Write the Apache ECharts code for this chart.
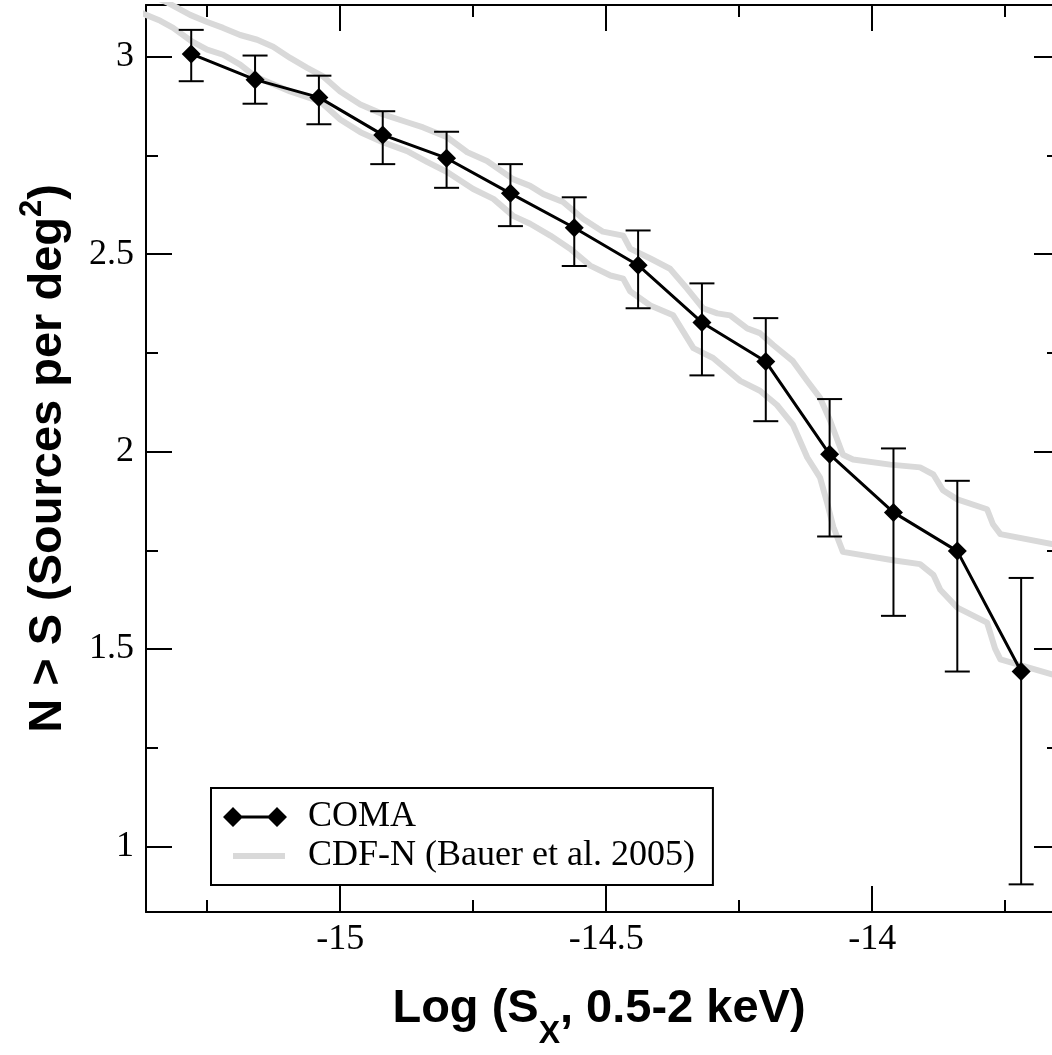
<!DOCTYPE html>
<html>
<head>
<meta charset="utf-8">
<script src="https://cdn.jsdelivr.net/npm/echarts@6/dist/echarts.min.js"></script>
<style>
html,body{margin:0;padding:0;background:#fff;}
#chart{width:1052px;height:1055px;}
</style>
</head>
<body>
<div id="chart"></div>
<script>
// ---- data ----
const comaX = [-15.28, -15.16, -15.04, -14.92, -14.80, -14.68, -14.56, -14.44, -14.32, -14.20, -14.08, -13.96, -13.84, -13.72];
const comaY = [3.007, 2.942, 2.897, 2.802, 2.743, 2.654, 2.567, 2.472, 2.327, 2.228, 1.993, 1.846, 1.748, 1.443];
const comaErrHigh = [3.068, 3.003, 2.952, 2.862, 2.810, 2.728, 2.644, 2.560, 2.426, 2.338, 2.133, 2.008, 1.926, 1.680];
const comaErrLow = [2.938, 2.881, 2.829, 2.728, 2.668, 2.571, 2.470, 2.363, 2.193, 2.077, 1.785, 1.584, 1.443, 0.904];

const cdfnUpperX = [-15.348, -15.323, -15.282, -15.250, -15.220, -15.188, -15.156, -15.126, -15.094, -15.062, -15.032, -15.000, -14.962, -14.919, -14.874, -14.844, -14.799, -14.761, -14.724, -14.675, -14.643, -14.618, -14.581, -14.543, -14.506, -14.468, -14.455, -14.417, -14.380, -14.348, -14.318, -14.291, -14.267, -14.235, -14.211, -14.186, -14.149, -14.122, -14.098, -14.079, -14.055, -14.036, -13.966, -13.910, -13.885, -13.867, -13.840, -13.784, -13.773, -13.759, -13.662, -13.637];
const cdfnUpperY = [3.151, 3.136, 3.106, 3.088, 3.073, 3.055, 3.043, 3.025, 2.997, 2.972, 2.950, 2.912, 2.879, 2.854, 2.834, 2.821, 2.796, 2.758, 2.736, 2.690, 2.673, 2.652, 2.632, 2.589, 2.557, 2.547, 2.514, 2.489, 2.463, 2.413, 2.363, 2.350, 2.345, 2.312, 2.300, 2.270, 2.229, 2.179, 2.136, 2.078, 1.992, 1.980, 1.967, 1.960, 1.942, 1.902, 1.879, 1.854, 1.816, 1.791, 1.766, 1.761];

const cdfnLowerX = [-15.376, -15.365, -15.338, -15.314, -15.278, -15.250, -15.220, -15.188, -15.160, -15.094, -15.038, -15.000, -14.962, -14.919, -14.874, -14.836, -14.799, -14.750, -14.712, -14.675, -14.643, -14.605, -14.568, -14.530, -14.492, -14.468, -14.455, -14.417, -14.374, -14.336, -14.299, -14.248, -14.211, -14.179, -14.149, -14.122, -14.098, -14.085, -14.073, -14.055, -13.961, -13.910, -13.885, -13.872, -13.840, -13.784, -13.769, -13.759, -13.662, -13.637];
const cdfnLowerY = [3.113, 3.106, 3.091, 3.073, 3.038, 3.018, 3.005, 2.980, 2.950, 2.912, 2.887, 2.841, 2.809, 2.783, 2.761, 2.733, 2.708, 2.665, 2.640, 2.597, 2.577, 2.547, 2.514, 2.471, 2.446, 2.438, 2.406, 2.370, 2.345, 2.262, 2.237, 2.179, 2.154, 2.118, 2.068, 1.985, 1.934, 1.872, 1.809, 1.746, 1.725, 1.715, 1.688, 1.650, 1.605, 1.567, 1.501, 1.474, 1.436, 1.428];

const xMajorTicks = [-15, -14.5, -14];
const xMinorTicks = [-15.25, -14.75, -14.25, -13.75];
const yMajorTicks = [1, 1.5, 2, 2.5, 3];
const yMinorTicks = [1.25, 1.75, 2.25, 2.75];

const comaName = 'COMA';
const cdfnName = 'CDF-N (Bauer et al. 2005)';
const xTitle = '{t|Log (S}{sub|X}{t|, 0.5-2 keV)}';
const yTitle = '{t|N > S (Sources per deg}{sup|2}{t|)}';

// ---- chart ----
const X_MIN = -15.365, X_MAX = -13.662, Y_MIN = 0.834, Y_MAX = 3.131;
const serif = 'Liberation Serif';
const sans = 'Liberation Sans';

function mkX(pos, ticks, len, main) {
  return {
    type: 'value', position: pos, min: X_MIN, max: X_MAX, gridIndex: 0,
    axisLine: {show: main, onZero: false, lineStyle: {color: '#000', width: 2}},
    axisTick: {show: true, inside: true, length: len, customValues: ticks, lineStyle: {color: '#000', width: 2}},
    axisLabel: (main && pos === 'bottom') ? {show: true, customValues: xMajorTicks, margin: 10, color: '#000', fontFamily: serif, fontSize: 36} : {show: false},
    splitLine: {show: false}, minorTick: {show: false}
  };
}
function mkY(pos, ticks, len, main) {
  return {
    type: 'value', position: pos, min: Y_MIN, max: Y_MAX, gridIndex: 0,
    axisLine: {show: main, onZero: false, lineStyle: {color: '#000', width: 2}},
    axisTick: {show: true, inside: true, length: len, customValues: ticks, lineStyle: {color: '#000', width: 2}},
    axisLabel: (main && pos === 'left') ? {show: true, customValues: yMajorTicks, margin: 12, color: '#000', fontFamily: serif, fontSize: 36} : {show: false},
    splitLine: {show: false}, minorTick: {show: false}
  };
}

// right-hand frame edge lies just beyond the canvas: only the inner ends of its ticks show
const xAxes = [mkX('bottom', xMajorTicks, 26, true), mkX('bottom', xMinorTicks, 12, false), mkX('top', xMajorTicks, 26, true), mkX('top', xMinorTicks, 12, false)];
xAxes[0].name = xTitle;
xAxes[0].nameLocation = 'middle';
xAxes[0].nameGap = 56;
xAxes[0].nameTextStyle = {
  color: '#000', fontFamily: sans, fontWeight: 'bold', fontSize: 47,
  rich: {
    t: {fontFamily: sans, fontWeight: 'bold', fontSize: 47, color: '#000'},
    sub: {fontFamily: sans, fontWeight: 'bold', fontSize: 32, color: '#000', padding: [50, 0, 0, 0]}
  }
};
const yAxes = [mkY('left', yMajorTicks, 26, true), mkY('left', yMinorTicks, 12, false), mkY('right', yMajorTicks, 18, false), mkY('right', yMinorTicks, 5, false)];
yAxes[0].name = yTitle;
yAxes[0].nameLocation = 'middle';
yAxes[0].nameGap = 66;
yAxes[0].nameTextStyle = {
  color: '#000', fontFamily: sans, fontWeight: 'bold', fontSize: 47,
  rich: {
    t: {fontFamily: sans, fontWeight: 'bold', fontSize: 47, color: '#000'},
    sup: {fontFamily: sans, fontWeight: 'bold', fontSize: 31, color: '#000', padding: [0, 0, 32, 0]}
  }
};

const upperData = cdfnUpperX.map((x, i) => [x, cdfnUpperY[i]]);
const lowerData = cdfnLowerX.map((x, i) => [x, cdfnLowerY[i]]);
const comaData = comaX.map((x, i) => [x, comaY[i]]);
const errData = comaX.map((x, i) => [x, comaErrLow[i], comaErrHigh[i]]);

const grayStyle = {color: '#d9d9d9', width: 6, join: 'round', cap: 'round'};

const option = {
  backgroundColor: '#fff',
  animation: false,
  grid: {left: 146, top: 5, right: 0, height: 912, containLabel: false},
  xAxis: xAxes,
  yAxis: yAxes,
  legend: {
    orient: 'vertical', left: 211, top: 788,
    padding: [11, 18, 11, 12], itemGap: 3,
    itemWidth: 80, itemHeight: 20,
    borderColor: '#000', borderWidth: 2, backgroundColor: '#fff',
    selectedMode: false,
    textStyle: {fontFamily: serif, fontSize: 36, color: '#000'},
    data: [
      {name: comaName, icon: 'path://M0,10 L10,0 L20,10 L10,20 Z M10,8.5 L54,8.5 L54,11.5 L10,11.5 Z M44,10 L54,0 L64,10 L54,20 Z M80,20 L80,20 Z', itemStyle: {color: '#000', borderWidth: 0}},
      {name: cdfnName, icon: 'path://M0,0 L0,0 Z M10,7 L62,7 L62,13 L10,13 Z M80,20 L80,20 Z', itemStyle: {color: '#d9d9d9', borderWidth: 0}}
    ]
  },
  series: [
    {name: cdfnName, type: 'line', data: upperData, showSymbol: false, symbol: 'none', lineStyle: grayStyle, itemStyle: {color: '#d9d9d9'}, z: 1, clip: true},
    {name: cdfnName, type: 'line', data: lowerData, showSymbol: false, symbol: 'none', lineStyle: grayStyle, itemStyle: {color: '#d9d9d9'}, z: 1, clip: true},
    {
      name: 'errors', type: 'custom', data: errData, z: 3, clip: true,
      encode: {x: 0, y: [1, 2]},
      renderItem: function (params, api) {
        const x = api.value(0);
        const lo = api.coord([x, api.value(1)]);
        const hi = api.coord([x, api.value(2)]);
        const hw = 12.5;
        const st = {stroke: '#000', lineWidth: 2};
        return {type: 'group', children: [
          {type: 'line', shape: {x1: hi[0], y1: hi[1], x2: lo[0], y2: lo[1]}, style: st},
          {type: 'line', shape: {x1: hi[0] - hw, y1: hi[1], x2: hi[0] + hw, y2: hi[1]}, style: st},
          {type: 'line', shape: {x1: lo[0] - hw, y1: lo[1], x2: lo[0] + hw, y2: lo[1]}, style: st}
        ]};
      }
    },
    {name: comaName, type: 'line', data: comaData, symbol: 'diamond', symbolSize: 19, showAllSymbol: true,
     lineStyle: {color: '#000', width: 3}, itemStyle: {color: '#000'}, z: 4, clip: true}
  ]
};

const chart = echarts.init(document.getElementById('chart'), null, {renderer: 'canvas'});
chart.setOption(option);
</script>
</body>
</html>
